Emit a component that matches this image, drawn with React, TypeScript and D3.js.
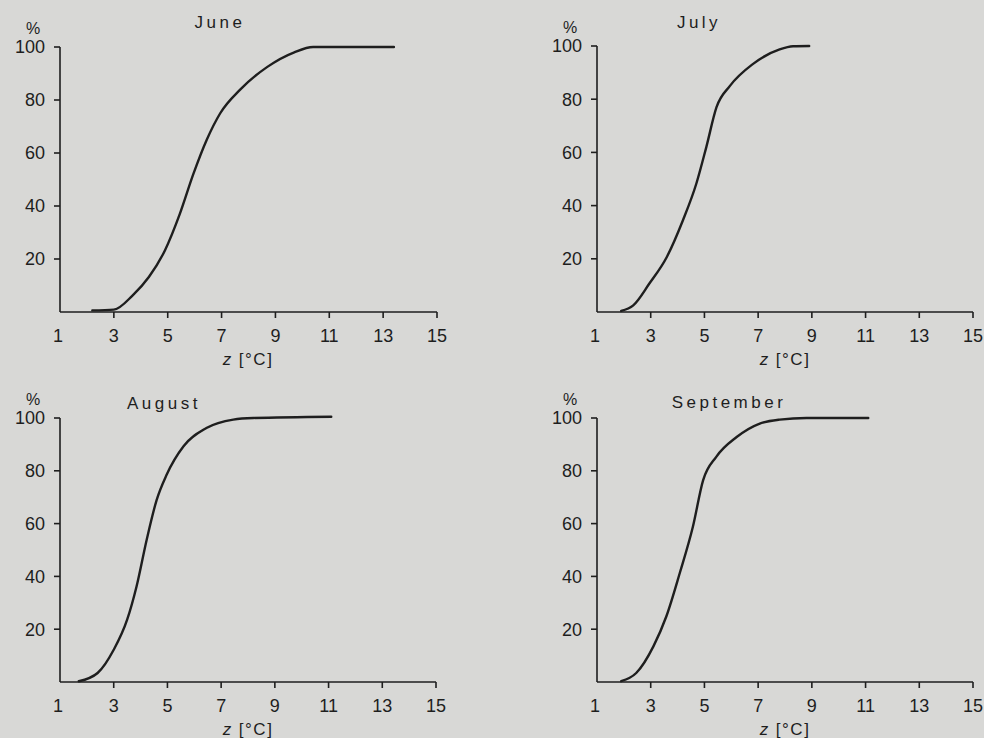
import React from 'react';
import * as d3 from 'd3';

// cumulative frequency curves
const juneZ = [2.2, 3.0, 3.7, 4.3, 4.9, 5.45, 5.95, 6.45, 6.95, 7.7, 8.7, 9.7, 10.4, 13.4];
const juneP = [0.6, 0.9, 6.3, 13.2, 23.3, 37, 52, 65, 75, 84, 92.5, 98, 100, 100];

const julyZ = [1.9, 2.35, 2.95, 3.6, 4.2, 4.7, 5.07, 5.45, 5.95, 6.8, 7.8, 8.3, 8.9];
const julyP = [0.4, 2.5, 10.7, 20.7, 34.5, 48.3, 62, 77, 85, 93.2, 98.7, 99.9, 100];

const augZ = [1.7, 2.4, 3.0, 3.5, 3.85, 4.23, 4.6, 4.97, 5.6, 6.45, 7.45, 8.2, 11.1];
const augP = [0.3, 3.4, 12.2, 23.6, 36.2, 54, 69, 78.5, 89.3, 96.2, 99.4, 100, 100.5];

const sepZ = [1.9, 2.46, 3.1, 3.58, 4.08, 4.57, 4.95, 5.44, 6.2, 7.06, 7.8, 8.8, 11.1];
const sepP = [0.3, 3.4, 13.5, 24.8, 41.2, 58.8, 76.4, 85.3, 92.8, 97.9, 99.4, 100, 100];

const months = ['June', 'July', 'August', 'September'];
const xTicks = [3, 5, 7, 9, 11, 13, 15];
const yTicks = [20, 40, 60, 80, 100];

const series = [
  { z: juneZ, p: juneP },
  { z: julyZ, p: julyP },
  { z: augZ, p: augP },
  { z: sepZ, p: sepP },
];

// panel frames: left = axis x, right = z 15, top = 100 %, bottom = axis y
const frames = [
  { left: 60, right: 437, top: 47, bottom: 312, titleX: 160, titleY: 28 },
  { left: 597, right: 973, top: 46, bottom: 312, titleX: 102, titleY: 28 },
  { left: 60, right: 436, top: 418, bottom: 682, titleX: 104, titleY: 409 },
  { left: 597, right: 973, top: 418, bottom: 682, titleX: 132, titleY: 408 },
];

const ink = '#1e1e1e';
const font = '"Liberation Sans", Arial, sans-serif';

function Panel({ idx }: { idx: number }) {
  const f = frames[idx];
  const s = series[idx];
  const x = d3.scaleLinear().domain([1, 15]).range([f.left, f.right]);
  const y = d3.scaleLinear().domain([0, 100]).range([f.bottom, f.top]);
  const pts = s.z.map((z, i) => [z, s.p[i]] as [number, number]);
  const line = d3.line<[number, number]>()
    .x(d => x(d[0]))
    .y(d => y(d[1]))
    .curve(d3.curveMonotoneX);

  return (
    <g>
      <line x1={x(1)} x2={x(15)} y1={y(0)} y2={y(0)} stroke={ink} strokeWidth={1.6} />
      <line x1={x(1)} x2={x(1)} y1={y(0)} y2={y(100)} stroke={ink} strokeWidth={1.6} />
      {xTicks.map(t => (
        <g key={'x' + t}>
          <line x1={x(t)} x2={x(t)} y1={y(0)} y2={y(0) + 6} stroke={ink} strokeWidth={1.6} />
          <text x={x(t)} y={y(0) + 30} textAnchor="middle" fontSize={18} fill={ink} fontFamily={font}>{t}</text>
        </g>
      ))}
      <text x={x(1) - 2} y={y(0) + 30} textAnchor="middle" fontSize={18} fill={ink} fontFamily={font}>1</text>
      {yTicks.map(t => (
        <g key={'y' + t}>
          <line x1={x(1) - 6} x2={x(1)} y1={y(t)} y2={y(t)} stroke={ink} strokeWidth={1.6} />
          <text x={x(1) - 15} y={y(t)} dy="0.35em" textAnchor="end" fontSize={18} fill={ink} fontFamily={font}>{t}</text>
        </g>
      ))}
      <text x={x(1) - 27} y={y(100) - 13} textAnchor="middle" fontSize={16} fill={ink} fontFamily={font}>%</text>
      <text x={f.left + f.titleX} y={f.titleY} textAnchor="middle" fontSize={17} letterSpacing={3.5} fill={ink} fontFamily={font}>{months[idx]}</text>
      <text x={f.left + 188} y={y(0) + 53} textAnchor="middle" fontSize={17} letterSpacing={1.5} fill={ink} fontFamily={font}>
        <tspan fontStyle="italic">z</tspan> [°C]
      </text>
      <path d={line(pts) || ''} fill="none" stroke={ink} strokeWidth={2.4} strokeLinecap="round" />
    </g>
  );
}

export default function App() {
  return (
    <div style={{ position: 'fixed', left: 0, top: 0 }}>
      <svg width={984} height={738} style={{ display: 'block', background: '#d8d8d6' }}>
        {months.map((m, i) => <Panel key={m} idx={i} />)}
      </svg>
    </div>
  );
}
